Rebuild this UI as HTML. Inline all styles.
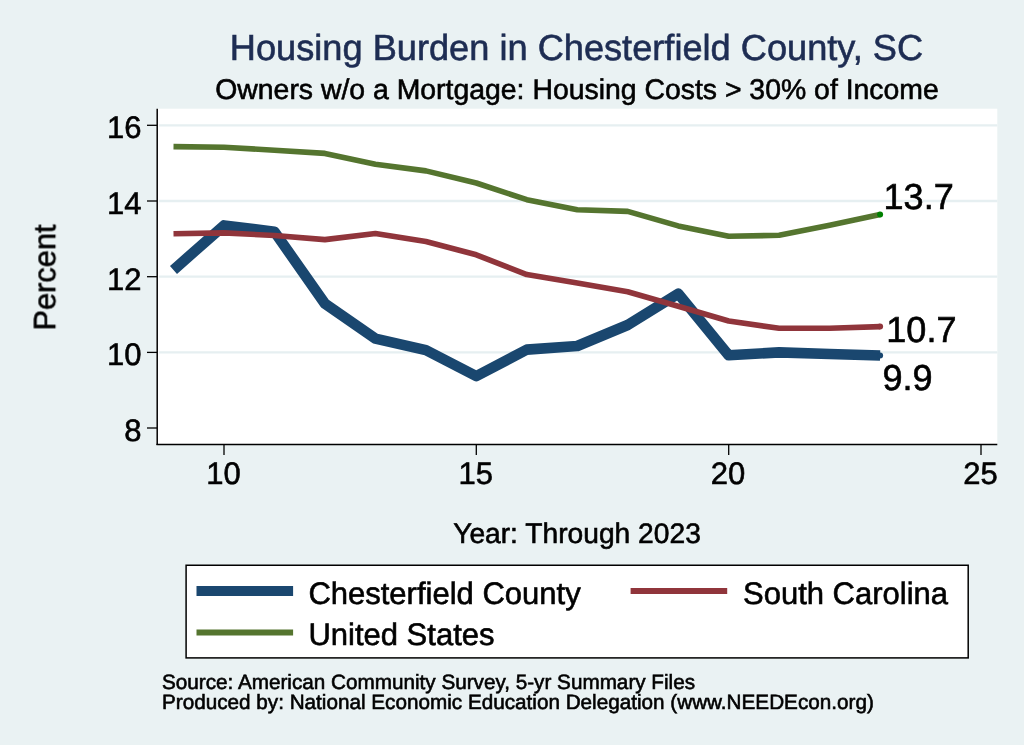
<!DOCTYPE html>
<html><head><meta charset="utf-8"><title>Housing Burden</title>
<style>
html,body{margin:0;padding:0;background:#eaf2f3;}
body{width:1024px;height:745px;overflow:hidden;font-family:"Liberation Sans",sans-serif;}
svg{display:block}
svg text{font-family:"Liberation Sans",sans-serif;fill:#000;stroke:#000;stroke-width:0.6px;text-rendering:geometricPrecision}
</style></head><body>
<svg width="1024" height="745" viewBox="0 0 1024 745">
<rect x="0" y="0" width="1024" height="745" fill="#eaf2f3"/>
<rect x="156.5" y="108.7" width="840.8" height="335.8" fill="#ffffff"/>
<line x1="159" x2="997.3" y1="125.3" y2="125.3" stroke="#e6eff1" stroke-width="2.3"/><line x1="159" x2="997.3" y1="201.0" y2="201.0" stroke="#e6eff1" stroke-width="2.3"/><line x1="159" x2="997.3" y1="276.7" y2="276.7" stroke="#e6eff1" stroke-width="2.3"/><line x1="159" x2="997.3" y1="352.4" y2="352.4" stroke="#e6eff1" stroke-width="2.3"/>
<polyline points="173.5,269.9 224.0,225.4 274.5,231.8 324.9,303.6 375.4,338.7 425.9,350.1 476.3,376.1 526.8,349.6 577.3,346.0 627.7,325.0 678.2,293.7 728.7,355.3 779.1,352.4 829.6,354.0 880.1,355.5" fill="none" stroke="#1a476f" stroke-width="10.6" stroke-linejoin="round" stroke-linecap="butt"/>
<polyline points="173.5,233.7 224.0,232.9 274.5,235.5 324.9,239.6 375.4,233.5 425.9,241.5 476.3,254.8 526.8,274.6 577.3,282.9 627.7,291.7 678.2,306.2 728.7,321.0 779.1,328.3 829.6,328.3 880.1,326.6" fill="none" stroke="#90353b" stroke-width="5.6" stroke-linejoin="round" stroke-linecap="butt"/>
<polyline points="173.5,146.6 224.0,147.3 274.5,150.2 324.9,153.4 375.4,164.2 425.9,170.9 476.3,183.0 526.8,199.7 577.3,209.8 627.7,211.4 678.2,225.9 728.7,236.3 779.1,235.3 829.6,225.2 880.1,214.6" fill="none" stroke="#55752f" stroke-width="5.6" stroke-linejoin="round" stroke-linecap="butt"/>
<circle cx="880.1" cy="355.5" r="3" fill="#1a476f"/>
<circle cx="880.1" cy="326.6" r="3" fill="#90353b"/>
<circle cx="880.1" cy="214.6" r="3" fill="#008000"/>
<line x1="157.2" x2="157.2" y1="108.8" y2="445.1" stroke="#000" stroke-width="1.5"/>
<line x1="156.45" x2="997.3" y1="444.4" y2="444.4" stroke="#000" stroke-width="1.5"/>
<line x1="147" x2="157" y1="125.3" y2="125.3" stroke="#000" stroke-width="1.3"/><line x1="147" x2="157" y1="201.0" y2="201.0" stroke="#000" stroke-width="1.3"/><line x1="147" x2="157" y1="276.7" y2="276.7" stroke="#000" stroke-width="1.3"/><line x1="147" x2="157" y1="352.4" y2="352.4" stroke="#000" stroke-width="1.3"/><line x1="147" x2="157" y1="428.0" y2="428.0" stroke="#000" stroke-width="1.3"/><line x1="224.0" x2="224.0" y1="444.5" y2="455" stroke="#000" stroke-width="1.3"/><line x1="476.3" x2="476.3" y1="444.5" y2="455" stroke="#000" stroke-width="1.3"/><line x1="728.7" x2="728.7" y1="444.5" y2="455" stroke="#000" stroke-width="1.3"/><line x1="981.0" x2="981.0" y1="444.5" y2="455" stroke="#000" stroke-width="1.3"/>
<rect x="186.1" y="565.25" width="782.1" height="92.65" fill="#fff" stroke="#000" stroke-width="1.5"/>
<line x1="196.5" x2="293.1" y1="591" y2="591" stroke="#1a476f" stroke-width="10.2"/>
<line x1="630.6" x2="727.2" y1="591" y2="591" stroke="#90353b" stroke-width="6"/>
<line x1="196.5" x2="293.1" y1="632.4" y2="632.4" stroke="#55752f" stroke-width="6"/>
<g opacity="0.999"><text x="141.6" y="138.1" text-anchor="end" font-size="31">16</text><text x="141.6" y="213.8" text-anchor="end" font-size="31">14</text><text x="141.6" y="289.5" text-anchor="end" font-size="31">12</text><text x="141.6" y="365.2" text-anchor="end" font-size="31">10</text><text x="141.6" y="440.8" text-anchor="end" font-size="31">8</text><text x="223.4" y="483.7" text-anchor="middle" font-size="31">10</text><text x="475.7" y="483.7" text-anchor="middle" font-size="31">15</text><text x="728.1" y="483.7" text-anchor="middle" font-size="31">20</text><text x="980.4" y="483.7" text-anchor="middle" font-size="31">25</text>
<text x="883.5" y="209" font-size="36.1">13.7</text>
<text x="886.3" y="341.7" font-size="36.1">10.7</text>
<text x="882.5" y="390.2" font-size="36.1">9.9</text>
<text x="576.5" y="59.5" text-anchor="middle" font-size="36.2" style="fill:#1e2d53;stroke:#1e2d53">Housing Burden in Chesterfield County, SC</text>
<text x="577" y="98.7" text-anchor="middle" font-size="28.4">Owners w/o a Mortgage: Housing Costs &gt; 30% of Income</text>
<text transform="translate(55.3,277.5) rotate(-90)" text-anchor="middle" font-size="30.8">Percent</text>
<text x="577" y="543.3" text-anchor="middle" font-size="28.2">Year: Through 2023</text>
<text x="308.4" y="603.8" font-size="31">Chesterfield County</text>
<text x="743" y="603.8" font-size="31">South Carolina</text>
<text x="308.4" y="644.9" font-size="31">United States</text>
<text x="162" y="688.7" font-size="20.7">Source: American Community Survey, 5-yr Summary Files</text>
<text x="162" y="708.7" font-size="20.7">Produced by: National Economic Education Delegation (www.NEEDEcon.org)</text></g>
</svg>
</body></html>
